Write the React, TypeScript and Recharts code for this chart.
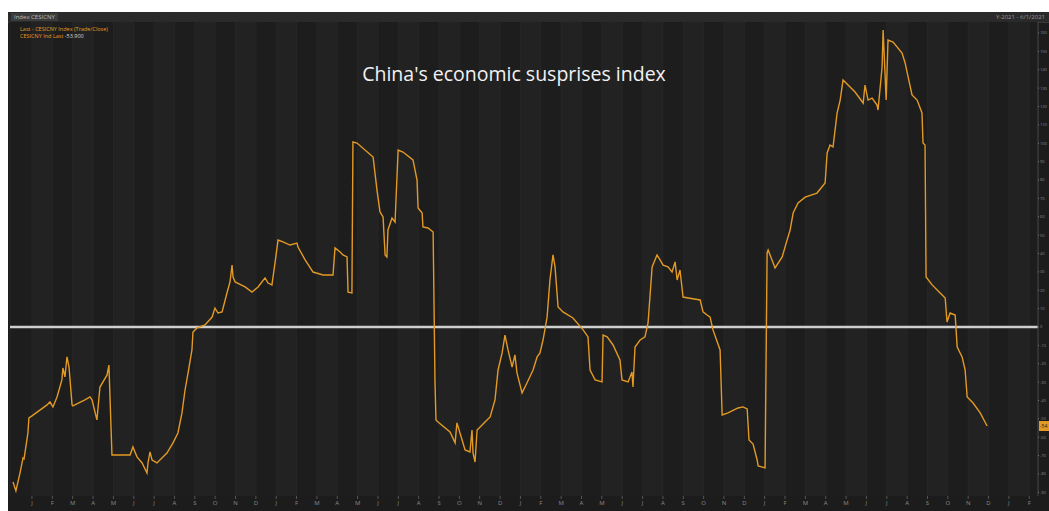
import { LineChart, Line, XAxis, YAxis, CartesianGrid, ReferenceLine } from 'recharts'

// time in months from the first labelled tick
const months = [
  -0.93, -0.79, -0.59, -0.44, -0.39, -0.25, -0.2, -0.15, 0, 0.74, 0.88, 1.03, 1.23, 1.47, 1.52, 1.62, 1.72, 1.82, 1.97, 2.01,
  2.6, 2.85, 2.95, 3.19, 3.34, 3.69, 3.78, 3.93, 4.82, 4.96, 5.16, 5.41, 5.65, 5.7, 5.8, 5.9, 6.14, 6.63, 6.93, 7.17,
  7.37, 7.52, 7.67, 7.86, 7.91, 8.11, 8.5, 8.85, 8.99, 9.14, 9.34, 9.58, 9.73, 9.83, 9.88, 9.98, 10.47, 10.81, 11.11, 11.45,
  11.6, 11.79, 11.94, 12.09, 12.33, 12.68, 13.02, 13.07, 13.42, 13.81, 14.3, 14.79, 14.89, 15.14, 15.28, 15.48, 15.53, 15.72, 15.77, 15.97,
  16.76, 16.95, 17.1, 17.25, 17.35, 17.44, 17.49, 17.69, 17.84, 17.99, 18.23, 18.72, 18.92, 18.97, 19.17, 19.21, 19.46, 19.71, 19.8, 19.85,
  19.95, 20.54, 20.79, 20.88, 21.03, 21.28, 21.52, 21.62, 21.67, 21.77, 21.87, 22.26, 22.51, 22.75, 22.9, 23.1, 23.24, 23.39, 23.59, 23.73,
  23.83, 24.08, 24.32, 24.62, 24.82, 24.96, 25.11, 25.31, 25.45, 25.6, 25.7, 25.85, 26.09, 26.58, 27.08, 27.32, 27.42, 27.67, 28.01, 28.06,
  28.26, 28.55, 28.89, 28.99, 29.29, 29.48, 29.53, 29.63, 29.88, 30.12, 30.27, 30.47, 30.71, 30.86, 31.01, 31.25, 31.45, 31.6, 31.7, 31.84,
  31.99, 32.24, 32.83, 32.97, 33.17, 33.32, 33.46, 33.81, 33.91, 34.2, 34.69, 34.94, 35.14, 35.23, 35.43, 35.63, 35.68, 36.02, 36.12, 36.17,
  36.36, 36.51, 36.86, 37.1, 37.25, 37.4, 37.64, 37.99, 38.57, 38.97, 39.07, 39.21, 39.36, 39.56, 39.71, 39.85, 40.44, 40.84, 40.93, 41.08,
  41.28, 41.52, 41.57, 41.77, 41.82, 41.97, 42.06, 42.31, 42.75, 42.9, 43.24, 43.49, 43.73, 43.78, 43.88, 43.93, 44.23, 44.62, 44.87, 44.96,
  45.11, 45.36, 45.46, 45.7, 45.85, 45.95, 46.24, 46.59, 46.93,
]

// CESI China values
const cesi = [
  -84.4, -89.2, -79.5, -71.3, -71.8, -61.5, -57.7, -49.5, -48.4, -42.4, -40.8, -43.5, -38.1, -28.8, -22.3, -27.2, -16.3, -21.8, -42.4, -43.0,
  -39.7, -38.1, -39.7, -50.6, -32.7, -26.1, -20.7, -69.7, -69.7, -65.3, -70.7, -74.0, -79.5, -74.0, -68.0, -72.4, -74.0, -68.6, -63.1, -57.7,
  -46.8, -34.3, -25.0, -12.5, -2.7, -0.5, 1.1, 5.4, 10.3, 7.6, 8.2, 18.5, 24.5, 33.7, 27.2, 24.5, 21.8, 19.0, 21.8, 26.7,
  23.9, 22.9, 34.8, 47.3, 46.3, 44.6, 45.7, 43.5, 36.5, 29.9, 28.3, 28.3, 43.0, 40.8, 39.2, 38.1, 19.0, 18.5, 100.7, 100.1,
  92.5, 74.6, 62.6, 59.9, 39.2, 38.1, 52.8, 59.3, 57.1, 96.3, 95.2, 90.9, 80.0, 64.8, 62.0, 54.4, 53.9, 51.7, -28.8, -50.6,
  -51.7, -57.1, -63.1, -52.2, -57.7, -66.9, -68.0, -56.1, -68.6, -73.5, -56.1, -51.7, -49.0, -39.7, -23.4, -14.1, -4.4, -12.5, -21.8, -15.2,
  -25.0, -35.9, -30.5, -23.4, -16.3, -14.1, -7.1, 5.4, 25.6, 39.2, 32.7, 10.9, 8.2, 4.9, -1.6, -5.4, -23.4, -28.8, -29.9, -4.4,
  -5.4, -9.8, -18.0, -28.8, -29.9, -24.5, -32.7, -10.9, -7.1, -5.4, 2.2, 32.7, 39.2, 36.5, 33.7, 32.7, 29.9, 35.4, 25.6, 31.0,
  16.3, 15.8, 14.7, 8.2, 6.5, 5.4, -1.6, -12.5, -47.9, -46.8, -44.1, -43.5, -44.6, -61.5, -63.7, -72.4, -75.6, -76.7, 40.3, 41.9,
  36.5, 32.1, 38.1, 47.3, 52.8, 62.0, 67.5, 70.7, 72.9, 78.4, 94.7, 99.0, 98.0, 116.5, 123.5, 134.4, 127.9, 121.9, 131.7, 123.5,
  124.6, 120.8, 118.1, 141.5, 161.6, 123.5, 156.2, 155.1, 149.1, 143.7, 126.3, 123.5, 116.5, 100.1, 99.0, 27.2, 22.9, 18.5, 15.8, 2.7,
  7.6, 6.5, -10.9, -16.3, -23.4, -38.1, -41.4, -46.8, -53.9,
]

const tickLabels = [
  'J', 'F', 'M', 'A', 'M', 'J', 'J', 'A', 'S', 'O', 'N', 'D',
  'J', 'F', 'M', 'A', 'M', 'J', 'J', 'A', 'S', 'O', 'N', 'D',
  'J', 'F', 'M', 'A', 'M', 'J', 'J', 'A', 'S', 'O', 'N', 'D',
  'J', 'F', 'M', 'A', 'M', 'J', 'J', 'A', 'S', 'O', 'N', 'D',
  'J', 'F',
]

const yTicks = [-90, -80, -70, -60, -50, -40, -30, -20, -10, 0, 10, 20, 30, 40, 50, 60, 70, 80, 90, 100, 110, 120, 130, 140, 150, 160]

const data = months.map((t, i) => ({ t, v: cesi[i] }))
const last = cesi[cesi.length - 1]

const ORANGE = '#e39a25'

function LastBadge({ viewBox }: any) {
  if (!viewBox) return null
  const x = viewBox.x + viewBox.width
  const y = viewBox.y
  return (
    <g>
      <rect x={x + 1} y={y - 5} width={12} height={10} fill={ORANGE} />
      <text x={x + 2} y={y + 2} fontSize={5} fill="#1a1a1a">{Math.round(last)}</text>
    </g>
  )
}

export default function App() {
  return (
    <div
      style={{
        position: 'fixed', left: 8, top: 12, width: 1041, height: 499,
        overflow: 'hidden', background: '#1c1c1c', fontFamily: '"Open Sans", "Noto Sans", sans-serif',
      }}
    >
      {/* header bar */}
      <div style={{ position: 'absolute', left: 0, top: 0, width: '100%', height: 10, background: '#2a2a2a', borderBottom: '1px solid #3a3a3a' }} />
      <div style={{ position: 'absolute', left: 3, top: 1, fontSize: 6, color: '#bbb', background: '#3c3c3c', padding: '0 3px' }}>
        Index  CESICNY
      </div>
      <div style={{ position: 'absolute', right: 4, top: 1, fontSize: 6, color: '#999' }}>
        Y-2021 - 6/1/2021
      </div>

      <LineChart width={1041} height={499} data={data} margin={{ top: 10, right: 0, bottom: 0, left: 2 }}>
        <CartesianGrid horizontal={false} stroke="#262626" verticalFill={['#1d1d1d', '#222222']} fillOpacity={1} />
        <XAxis
          type="number" dataKey="t" domain={[-1.08, 49.43]} allowDataOverflow
          ticks={tickLabels.map((_, i) => i)} tickFormatter={(i) => tickLabels[i]}
          height={15} axisLine={false} tickLine={{ stroke: '#555' }} tickSize={3}
          tick={{ fontSize: 6, fill: '#8a8a8a' }} interval={0}
        />
        <YAxis
          orientation="right" domain={[-92, 166]} ticks={yTicks} allowDataOverflow
          width={11} axisLine={{ stroke: '#444' }} tickLine={{ stroke: '#777' }} tickSize={1}
          tick={{ fontSize: 4, fill: '#8a8a8a', dx: -1 }} interval={0}
        />
        <ReferenceLine y={0} stroke="#cfcfcf" strokeWidth={2.5} />
        <ReferenceLine y={last} stroke="none" label={<LastBadge />} />
        <Line
          type="linear" dataKey="v" stroke={ORANGE} strokeWidth={1.4}
          dot={false} isAnimationActive={false}
        />
      </LineChart>

      {/* legend */}
      <div style={{ position: 'absolute', left: 12, top: 14, fontSize: 5.5, color: ORANGE, lineHeight: '7px' }}>
        <div>Last - CESICNY Index (Trade/Close)</div>
        <div>CESICNY Ind  Last <span style={{ color: '#ddd' }}>{last.toFixed(3)}</span></div>
      </div>

      {/* title */}
      <div
        style={{
          position: 'absolute', left: 0, width: 1012, top: 48, textAlign: 'center',
          fontSize: 19.5, color: '#f2f2f2',
        }}
      >
        China's economic susprises index
      </div>
    </div>
  )
}
